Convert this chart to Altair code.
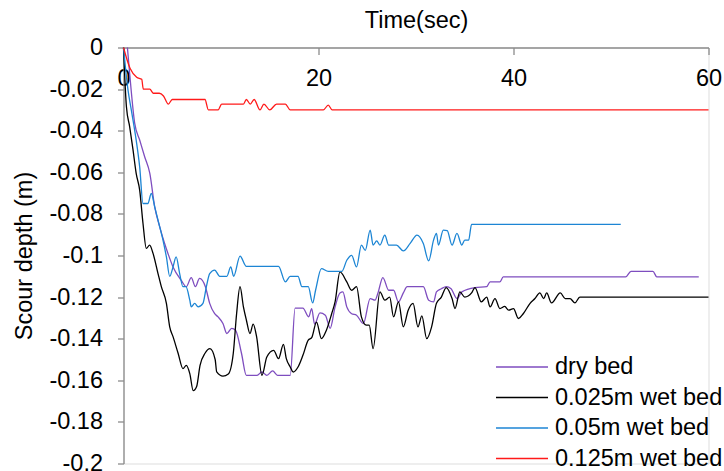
import altair as alt
import pandas as pd

# ---- data ----
series_names = ["dry bed", "0.025m wet bed", "0.05m wet bed", "0.125m wet bed"]
series_colors = ["#7E4DBF", "#000000", "#1C85D4", "#FF1A1A"]

dry_t = [0.4, 0.63, 1.15, 1.66, 2.17, 2.7, 3.2, 3.7, 4.2, 4.56, 5.08, 5.93, 6.44, 6.95, 7.37,
         7.8, 8.4, 8.84, 9.35, 9.7, 10.2, 10.6, 11.1, 11.5, 12.1, 12.6, 13.7, 14.2, 14.7, 15.3,
         15.8, 17.1, 17.6, 18.4, 19.0, 19.3, 19.6, 20.15, 20.7, 21.2, 21.7, 22.2, 22.5, 22.9,
         23.4, 23.9, 24.6, 25.3, 25.8, 26.1, 26.6, 27.2, 27.7, 28.2, 28.7, 29.1, 30.75, 31.3,
         31.8, 32.1, 32.6, 33.1, 33.6, 34.2, 34.7, 36.05, 37.25, 37.6, 38.6, 38.95, 51.5, 52.05,
         54.3, 54.7, 59.0]
dry_d = [0.0, -0.0124, -0.0365, -0.0445, -0.0525, -0.0605, -0.0766, -0.086, -0.094, -0.099,
         -0.1055, -0.112, -0.115, -0.1106, -0.115, -0.111, -0.115, -0.123, -0.128, -0.1295,
         -0.1327, -0.1375, -0.135, -0.136, -0.147, -0.1576, -0.1576, -0.156, -0.1576, -0.1555,
         -0.1576, -0.1576, -0.1253, -0.1253, -0.1295, -0.1255, -0.133, -0.1276, -0.1287, -0.135,
         -0.1247, -0.118, -0.1175, -0.1247, -0.128, -0.1287, -0.1327, -0.1207, -0.1215, -0.118,
         -0.1106, -0.1167, -0.1167, -0.1223, -0.118, -0.115, -0.115, -0.1215, -0.1223, -0.1175,
         -0.116, -0.115, -0.116, -0.1207, -0.1175, -0.1154, -0.115, -0.1127, -0.1127, -0.1103,
         -0.1103, -0.1076, -0.1076, -0.1103, -0.1103]

wet025_t = [0.0, 0.3, 0.63, 0.97, 1.3, 1.66, 2.0, 2.34, 2.68, 3.03, 3.54, 3.88, 4.4, 4.74, 5.08,
            5.6, 6.1, 6.44, 6.8, 7.15, 7.5, 7.85, 8.36, 8.87, 9.4, 9.56, 10.2, 10.75, 11.26, 11.6,
            11.95, 12.3, 12.6, 12.97, 13.3, 13.65, 14.2, 14.7, 15.4, 15.9, 16.4, 16.7, 17.1, 17.4,
            17.9, 18.4, 18.95, 19.3, 19.8, 20.3, 20.8, 21.35, 21.7, 22.2, 22.9, 23.4, 23.9, 24.4,
            24.9, 25.2, 25.6, 26.3, 26.8, 27.3, 27.7, 28.2, 28.7, 29.2, 29.7, 30.2, 30.6, 31.1,
            31.6, 32.1, 32.6, 33.1, 33.7, 34.0, 34.5, 35.0, 35.7, 36.05, 36.7, 37.25, 37.6, 38.1,
            38.6, 39.1, 39.5, 40.0, 40.5, 41.0, 41.7, 42.2, 42.7, 43.1, 43.4, 43.9, 44.8, 45.3,
            45.8, 46.3, 46.8, 60.0]
wet025_d = [0.0, -0.0285, -0.038, -0.049, -0.0605, -0.0686, -0.0846, -0.0966, -0.095, -0.099,
            -0.1087, -0.115, -0.123, -0.1343, -0.139, -0.147, -0.1544, -0.1528, -0.1568, -0.165,
            -0.163, -0.1528, -0.147, -0.1448, -0.150, -0.156, -0.158, -0.157, -0.147, -0.128,
            -0.115, -0.1247, -0.131, -0.1375, -0.133, -0.139, -0.1576, -0.1488, -0.1456, -0.1496,
            -0.1427, -0.1496, -0.1536, -0.156, -0.1536, -0.148, -0.1407, -0.1395, -0.132, -0.140,
            -0.136, -0.128, -0.1223, -0.1079, -0.1127, -0.1167, -0.115, -0.1295, -0.1335, -0.1335,
            -0.1448, -0.1175, -0.1215, -0.120, -0.1295, -0.1223, -0.1343, -0.1263, -0.123, -0.1343,
            -0.129, -0.140, -0.1343, -0.123, -0.120, -0.1154, -0.1207, -0.1255, -0.1175, -0.120,
            -0.118, -0.1154, -0.1223, -0.120, -0.1247, -0.1207, -0.1255, -0.1245, -0.1263, -0.1255,
            -0.1303, -0.128, -0.123, -0.1207, -0.118, -0.1207, -0.118, -0.1228, -0.118, -0.1207,
            -0.1207, -0.1228, -0.120, -0.120]

wet05_t = [0.0, 0.46, 0.8, 1.3, 1.66, 2.0, 2.5, 2.85, 3.2, 3.54, 4.05, 4.4, 4.74, 5.08, 5.4, 5.76,
           6.1, 6.4, 6.8, 6.95, 7.3, 7.65, 8.15, 8.5, 8.84, 9.35, 9.87, 10.6, 11.0, 11.3, 11.95,
           12.6, 15.9, 16.6, 17.1, 17.9, 18.3, 18.95, 19.4, 19.7, 20.3, 21.0, 22.4, 22.9, 23.4,
           23.9, 24.4, 24.8, 25.3, 25.6, 25.97, 26.3, 26.8, 27.2, 28.0, 28.7, 29.4, 30.1, 30.75,
           31.3, 31.8, 32.1, 32.3, 32.8, 33.2, 33.7, 34.2, 34.7, 35.0, 35.4, 35.7, 51.0]
wet05_d = [0.0, -0.0204, -0.030, -0.0445, -0.0574, -0.075, -0.075, -0.0702, -0.0766, -0.083,
           -0.0926, -0.1007, -0.110, -0.1055, -0.1007, -0.1087, -0.115, -0.115, -0.1215, -0.1247,
           -0.123, -0.1247, -0.123, -0.115, -0.1087, -0.107, -0.110, -0.110, -0.1055, -0.110,
           -0.1003, -0.1052, -0.1052, -0.1127, -0.110, -0.110, -0.115, -0.115, -0.1228, -0.1167,
           -0.1063, -0.1076, -0.1076, -0.1023, -0.0999, -0.1055, -0.095, -0.0975, -0.0878, -0.095,
           -0.093, -0.095, -0.0902, -0.095, -0.095, -0.0978, -0.0942, -0.0902, -0.0942, -0.1026,
           -0.0926, -0.0894, -0.095, -0.0878, -0.088, -0.095, -0.0894, -0.095, -0.0926, -0.0926,
           -0.085, -0.085]

wet125_t = [0.0, 0.67, 1.35, 1.87, 2.03, 2.7, 3.05, 3.67, 4.1, 4.6, 5.0, 8.36, 8.7, 9.7, 10.07,
            12.3, 12.6, 13.0, 13.4, 14.0, 14.4, 15.0, 15.7, 16.6, 17.1, 20.5, 21.0, 21.4, 60.0]
wet125_d = [0.0, -0.010, -0.0143, -0.0153, -0.020, -0.020, -0.022, -0.022, -0.0233, -0.0272,
            -0.025, -0.025, -0.030, -0.030, -0.0272, -0.0272, -0.025, -0.0272, -0.025, -0.030,
            -0.0272, -0.030, -0.0272, -0.0272, -0.030, -0.030, -0.0277, -0.030, -0.030]

x_ticks = [0, 20, 40, 60]
y_ticks = [0, -0.02, -0.04, -0.06, -0.08, -0.1, -0.12, -0.14, -0.16, -0.18, -0.2]

# ---- build table ----
rows = []
for name, ts, ds in [(series_names[0], dry_t, dry_d),
                     (series_names[1], wet025_t, wet025_d),
                     (series_names[2], wet05_t, wet05_d),
                     (series_names[3], wet125_t, wet125_d)]:
    for i, (t, d) in enumerate(zip(ts, ds)):
        rows.append({"t": t, "d": d, "series": name, "i": i})
df = pd.DataFrame(rows)

FONT = "Liberation Sans"
W, H = 585, 416

chart = alt.Chart(df).mark_line(strokeWidth=1.3, interpolate="monotone").encode(
    x=alt.X("t:Q",
            scale=alt.Scale(domain=[0, 60], nice=False, zero=False),
            axis=alt.Axis(orient="bottom", offset=-H, values=x_ticks, grid=False,
                          title="Time(sec)", titleY=-20, titleX=W / 2,
                          titleBaseline="alphabetic", titleAlign="center",
                          titleFont=FONT, titleFontSize=23.5, titleFontWeight="normal",
                          titleColor="#000000",
                          labelFont=FONT, labelFontSize=23.5, labelColor="#000000",
                          labelPadding=11.5, tickSize=7, tickColor="#8c8c8c",
                          domainColor="#8c8c8c", domainWidth=1.3, tickWidth=1.3,
                          labelFlush=False, labelOverlap=False)),
    y=alt.Y("d:Q",
            scale=alt.Scale(domain=[-0.2, 0], nice=False, zero=False),
            axis=alt.Axis(orient="left", values=y_ticks, grid=False,
                          labelExpr="toString(datum.value)",
                          title="Scour depth (m)", titleX=-87, titleY=H / 2,
                          titleAngle=270, titleBaseline="bottom", titleAlign="center",
                          titleFont=FONT, titleFontSize=23.5, titleFontWeight="normal",
                          titleColor="#000000",
                          labelFont=FONT, labelFontSize=23.5, labelColor="#000000",
                          labelPadding=15, tickSize=6, tickColor="#8c8c8c",
                          domainColor="#8c8c8c", domainWidth=1.3, tickWidth=1.3,
                          labelFlush=False, labelOverlap=False)),
    color=alt.Color("series:N",
                    scale=alt.Scale(domain=series_names, range=series_colors),
                    legend=alt.Legend(orient="none", legendX=371.5, legendY=306.5,
                                      title=None, symbolType="stroke", symbolSize=2704,
                                      symbolStrokeWidth=1.6, clipHeight=26, rowPadding=4.5,
                                      labelOffset=6, labelFont=FONT, labelFontSize=23.5,
                                      labelColor="#000000", padding=0, labelLimit=400)),
    order=alt.Order("i:Q"),
).properties(
    width=W, height=H,
    padding={"left": 123.5, "top": 47.5, "right": 15.5, "bottom": 7.5},
    autosize=alt.AutoSizeParams(type="none"),
).configure_view(stroke=None).configure(background="white")

chart.save("out.html", embed_options={"renderer": "svg", "actions": False})
